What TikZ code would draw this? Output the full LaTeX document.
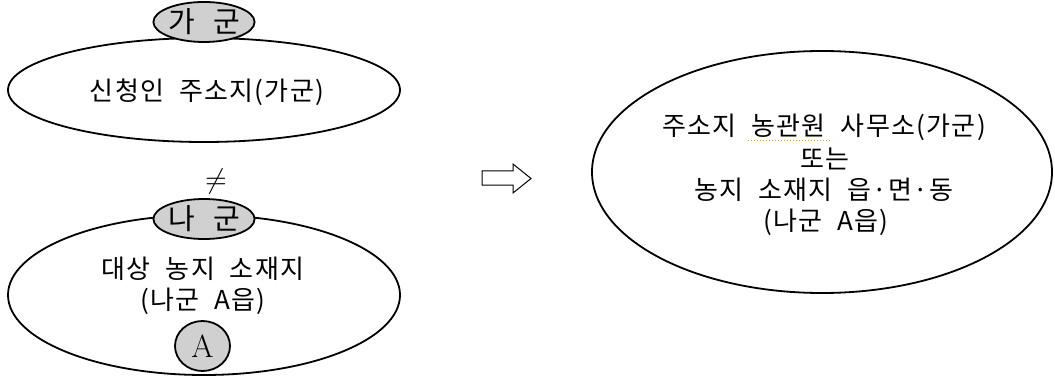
\documentclass[tikz,border=0pt]{standalone}
\usepackage{fontspec}
\newfontfamily\kr[LetterSpace=5,WordSpace=2.1]{Noto Sans CJK KR}
\newfontfamily\krb[WordSpace=2.8]{Noto Sans CJK KR}
\usetikzlibrary{shapes.geometric}
\definecolor{fillgray}{RGB}{208,208,208}
\definecolor{squig}{RGB}{225,150,60}
\tikzset{
  bigell/.style={ellipse, draw=black, line width=1.8pt, inner sep=0pt},
  grayell/.style={ellipse, draw=black, line width=1.8pt, fill=fillgray, inner sep=0pt},
  txt/.style={inner sep=0pt, font=\kr\fontsize{26}{26}\selectfont},
  tagtxt/.style={font=\krb\fontsize{29}{29}\selectfont},
}
\begin{document}
\begin{tikzpicture}[x=1pt,y=-1pt]
\useasboundingbox (0,0) rectangle (1055,377);
% left top group
\node[bigell, minimum width=392pt, minimum height=104pt] (top) at (204,90) {};
\node[txt] (toptext) at (207,92) {신청인 주소지(가군)};
\node[grayell, minimum width=100pt, minimum height=40pt, tagtxt] (gagun) at (204,22) {가 군};
% not equal
\node[inner sep=0pt, scale=2.8] (neq) at (216,182) {$\neq$};
% left bottom group
\node[bigell, minimum width=392pt, minimum height=160pt] (bottom) at (204,295) {};
\node[grayell, minimum width=100pt, minimum height=40pt, tagtxt] (nagun) at (204,219) {나 군};
\node[txt] (botA) at (203,269) {대상 농지 소재지};
\node[txt] (botB) at (203,301) {(나군 A읍)};
\node[grayell, minimum width=55pt, minimum height=50pt, font=\fontsize{32}{32}\selectfont] (acirc) at (202.5,346) {A};
% arrow
\draw[line width=1pt] (482,171) -- (513,171) -- (513,164) -- (531,178.5) -- (513,193) -- (513,185) -- (482,185) -- cycle;
% right ellipse
\node[bigell, minimum width=460pt, minimum height=242pt] (right) at (822,172) {};
\node[txt] (r1) at (824,127) {주소지 농관원 사무소(가군)};
\node[txt] (r2) at (825,159) {또는};
\node[txt] (r3) at (824,190) {농지 소재지 읍·면·동};
\node[txt] (r4) at (826,222) {(나군 A읍)};
\coordinate (sq1) at (748,141);
\coordinate (sq2) at (832,141);
\draw[squig, line width=1pt, dotted] (sq1) -- (sq2);
\end{tikzpicture}
\end{document}
